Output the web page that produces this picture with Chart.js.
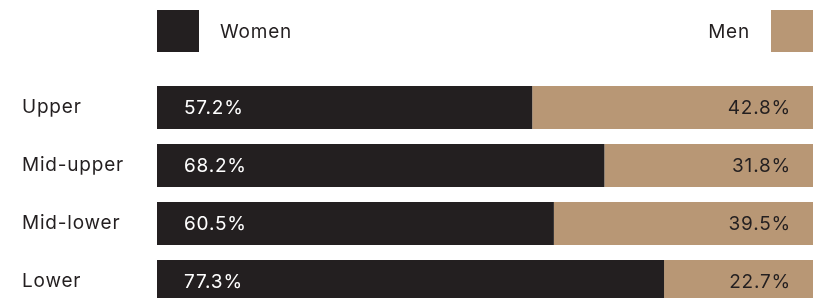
<!DOCTYPE html>
<html>
<head>
<meta charset="utf-8">
<script src="https://cdn.jsdelivr.net/npm/chart.js@4"></script>
<style>
  html, body { margin: 0; padding: 0; background: #fff; overflow: hidden; }
  #wrap { width: 818px; height: 322px; position: relative; }
</style>
</head>
<body>
<div id="wrap"><canvas id="chart"></canvas></div>
<script>
const categories = ["Upper", "Mid-upper", "Mid-lower", "Lower"];
const women = [57.2, 68.2, 60.5, 77.3];
const men = [42.8, 31.8, 39.5, 22.7];
const seriesNames = ["Women", "Men"];

const dark = "#231f20";
const tan = "#b89775";
const font = "Inter, 'Noto Sans', sans-serif";
const spacing = "0.8px";

// legend boxes at the top + value labels inside the bars
const labelsPlugin = {
  id: "labels",
  beforeDraw(chart) {
    chart.ctx.letterSpacing = spacing; // wider text, also for the y ticks
  },
  afterDatasetsDraw(chart) {
    const ctx = chart.ctx;
    const area = chart.chartArea;
    ctx.save();
    ctx.letterSpacing = spacing;
    ctx.font = "19px " + font;
    ctx.textBaseline = "middle";

    ctx.fillStyle = dark;
    ctx.fillRect(area.left, 10, 42, 42);
    ctx.textAlign = "left";
    ctx.fillText(seriesNames[0], area.left + 63, 32);

    ctx.fillStyle = tan;
    ctx.fillRect(area.right - 42, 10, 42, 42);
    ctx.fillStyle = dark;
    ctx.textAlign = "right";
    ctx.fillText(seriesNames[1], area.right - 63, 32);

    chart.getDatasetMeta(0).data.forEach((bar, i) => {
      ctx.fillStyle = "#ffffff";
      ctx.textAlign = "left";
      ctx.fillText(women[i].toFixed(1) + "%", bar.base + 27, bar.y + 1);
    });
    chart.getDatasetMeta(1).data.forEach((bar, i) => {
      ctx.fillStyle = dark;
      ctx.textAlign = "right";
      ctx.fillText(men[i].toFixed(1) + "%", bar.x - 22, bar.y + 1);
    });
    ctx.restore();
  },
};

new Chart(document.getElementById("chart"), {
  type: "bar",
  data: {
    labels: categories,
    datasets: [
      { label: seriesNames[0], data: women, backgroundColor: dark },
      { label: seriesNames[1], data: men, backgroundColor: tan },
    ],
  },
  options: {
    indexAxis: "y",
    responsive: true,
    maintainAspectRatio: false,
    animation: false,
    events: [],
    layout: { padding: { left: 22, right: 5, top: 78.5, bottom: 11.5 } },
    datasets: { bar: { categoryPercentage: 1, barPercentage: 43 / 58 } },
    plugins: { legend: { display: false }, tooltip: { enabled: false } },
    scales: {
      x: { stacked: true, min: 0, max: 100, display: false },
      y: {
        stacked: true,
        grid: { display: false },
        border: { display: false },
        afterFit: (s) => { s.width = 135; },
        ticks: { crossAlign: "far", color: dark, padding: 0, font: { family: font, size: 19 } },
      },
    },
  },
  plugins: [labelsPlugin],
});
</script>
</body>
</html>
